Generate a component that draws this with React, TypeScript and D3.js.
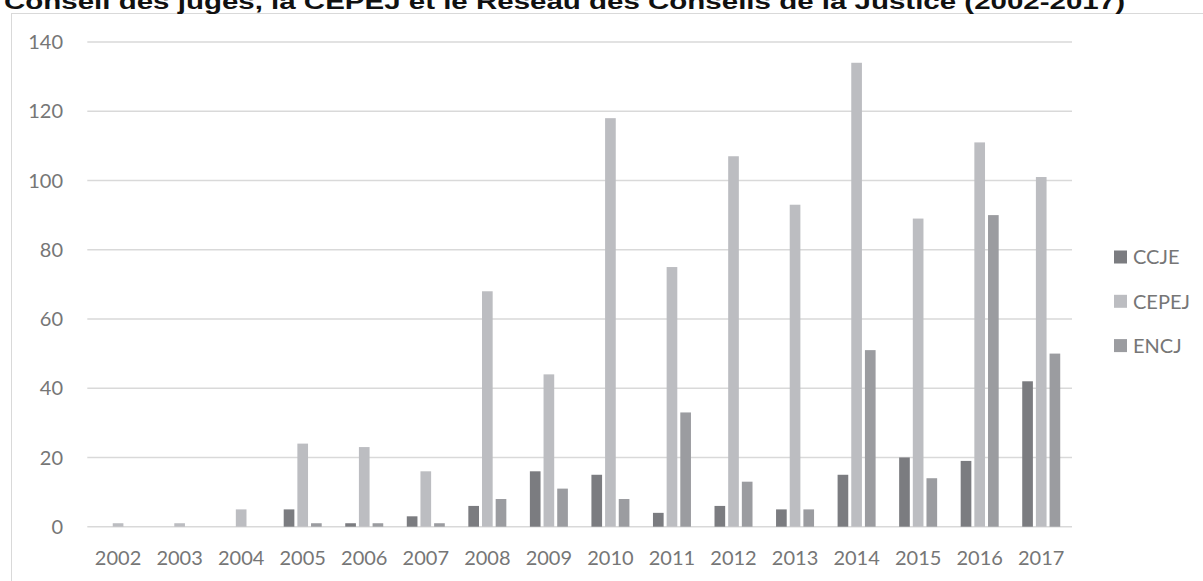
import React from "react";
import * as d3 from "d3";

const years = ["2002","2003","2004","2005","2006","2007","2008","2009","2010","2011","2012","2013","2014","2015","2016","2017"];
const ccje = [0,0,0,5,1,3,6,16,15,4,6,5,15,20,19,42];
const cepej = [1,1,5,24,23,16,68,44,118,75,107,93,134,89,111,101];
const encj = [0,0,0,1,1,1,8,11,8,33,13,5,51,14,90,50];
const seriesNames = ["CCJE","CEPEJ","ENCJ"];
const seriesColors = ["#7b7c80","#bcbdc1","#9b9ca0"];
const yTicks = [0,20,40,60,80,100,120,140];
const title = "Conseil des juges, la CEPEJ et le Réseau des Conseils de la Justice (2002-2017)";

const W = 1203, H = 581;

export default function App() {
  const seriesValues = [ccje, cepej, encj];
  const x = d3.scaleBand<string>().domain(years).range([87.3, 1072]).padding(0);
  const x1 = d3.scaleBand<string>().domain(seriesNames).range([-19, 19]).paddingInner(0.22).paddingOuter(0);
  const y = d3.scaleLinear().domain([0, 140]).range([526.7, 42]);
  const font = "Lato, 'Open Sans', sans-serif";
  const textColor = "#767676";
  return (
    <svg width={W} height={H} style={{ position: "absolute", left: 0, top: 0, background: "#fff" }}>
      <rect x={0} y={0} width={W} height={H} fill="#fff" />
      <rect x={11.5} y={13.5} width={W + 20} height={H + 20} fill="none" stroke="#d9d9d9" strokeWidth={1} />
      <text x={4} y={9} fontFamily="'Liberation Sans', Arial, sans-serif" fontWeight="bold" fontSize={22}
        fill="#111" textLength={1121} lengthAdjust="spacingAndGlyphs">{title}</text>
      {yTicks.map(t => (
        <g key={t}>
          <line x1={87.3} x2={1072} y1={y(t)} y2={y(t)} stroke="#d9d9d9" strokeWidth={1.5} />
          <text x={63} y={y(t)} dy="0.36em" textAnchor="end" fontFamily={font} fontSize={20} fill={textColor}>{t}</text>
        </g>
      ))}
      {years.map((yr, i) => (
        <g key={yr}>
          {seriesNames.map((s, k) => {
            const v = seriesValues[k][i];
            if (!v) return null;
            const cx = (x(yr) as number) + x.bandwidth() / 2 + (x1(s) as number);
            return <rect key={s} x={cx} y={y(v)} width={x1.bandwidth()} height={y(0) - y(v)} fill={seriesColors[k]} />;
          })}
          <text x={(x(yr) as number) + x.bandwidth() / 2} y={565} textAnchor="middle" fontFamily={font} fontSize={20} fill={textColor}>{yr}</text>
        </g>
      ))}
      {seriesNames.map((s, k) => {
        const cy = 257 + k * 44.3;
        return (
          <g key={s}>
            <rect x={1114} y={cy - 6.5} width={13} height={13} fill={seriesColors[k]} />
            <text x={1133} y={cy} dy="0.36em" fontFamily={font} fontSize={20} fill={textColor}>{s}</text>
          </g>
        );
      })}
    </svg>
  );
}
